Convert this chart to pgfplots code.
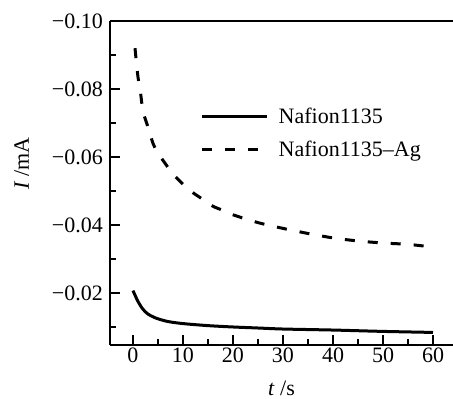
\documentclass[border=0pt]{standalone}
\usepackage{fontspec}
\setmainfont{Liberation Serif}
\usepackage{pgfplots}
\pgfplotsset{compat=1.18}
\newcommand{\fs}{\fontsize{22}{26}\selectfont}
\begin{document}
\begin{tikzpicture}[font=\fs]
\useasboundingbox (-110pt,-54pt) rectangle (343pt,345pt);
\begin{axis}[
  at={(0pt,0pt)}, anchor=south west,
  scale only axis, width=343pt, height=324pt,
  xmin=-4.6, xmax=64,
  ymin=-0.10, ymax=-0.0047,
  y dir=reverse,
  axis x line=box, axis y line=left,
  axis line style={-, line width=1.6pt},
  ytick align=inside,
  xtick align=inside,
  xtick pos=left,
  xtick={0,10,20,30,40,50,60},
  minor xtick={5,15,25,35,45,55},
  ytick={-0.10,-0.08,-0.06,-0.04,-0.02},
  yticklabels={−0.10,−0.08,−0.06,−0.04,−0.02},
  minor ytick={-0.09,-0.07,-0.05,-0.03,-0.01},
  major tick length=10pt, minor tick length=6pt,
  every tick/.style={black, line width=1.4pt},
  xticklabel style={font=\fs, anchor=north, inner sep=0pt, yshift=-3pt},
  yticklabel style={font=\fs, anchor=east, inner sep=0pt, xshift=-7pt},
  /pgf/number format/assume math mode=true,
  xlabel={\textit{t} /s},
  ylabel={\textit{I} /mA},
  xlabel style={font=\fs, at={(axis description cs:0.5,-0.133)}, anchor=center},
  ylabel style={font=\fs, at={(axis description cs:-0.257,0.56)}, anchor=center, rotate=0},
  legend style={draw=none, fill=none, font=\fs, at={(axis description cs:0.255,0.745)}, anchor=north west, row sep=12pt, nodes={inner sep=2pt},
    /tikz/every odd column/.append style={column sep=8pt}},
  legend cell align=left,
  legend image code/.code={\draw[#1] (0pt,0pt) -- (65pt,0pt);},
]
\addplot[black, line width=3pt, smooth] coordinates {
(0,-0.0207) (1,-0.0175) (2,-0.0152) (3,-0.0138) (4,-0.0130) (5,-0.0124) (7,-0.0116) (10,-0.0110) (15,-0.0104) (20,-0.0100) (25,-0.0097) (30,-0.0094) (40,-0.0091) (50,-0.0087) (60,-0.0084)
};
\addlegendentry{Nafion1135}
\addplot[black, line width=3pt, smooth, dash pattern=on 10pt off 13pt] coordinates {
(0.4,-0.092) (1,-0.0835) (1.5,-0.079) (2,-0.0735) (3,-0.0688) (4,-0.064) (5,-0.0612) (6,-0.059) (8,-0.055) (10,-0.052) (12,-0.0495) (14,-0.0475) (16,-0.0455) (18,-0.0443) (20,-0.043) (25,-0.0407) (30,-0.039) (35,-0.0375) (40,-0.0362) (45,-0.0353) (50,-0.0347) (55,-0.0343) (60,-0.0335)
};
\addlegendentry{Nafion1135–Ag}
\end{axis}
\end{tikzpicture}
\end{document}
